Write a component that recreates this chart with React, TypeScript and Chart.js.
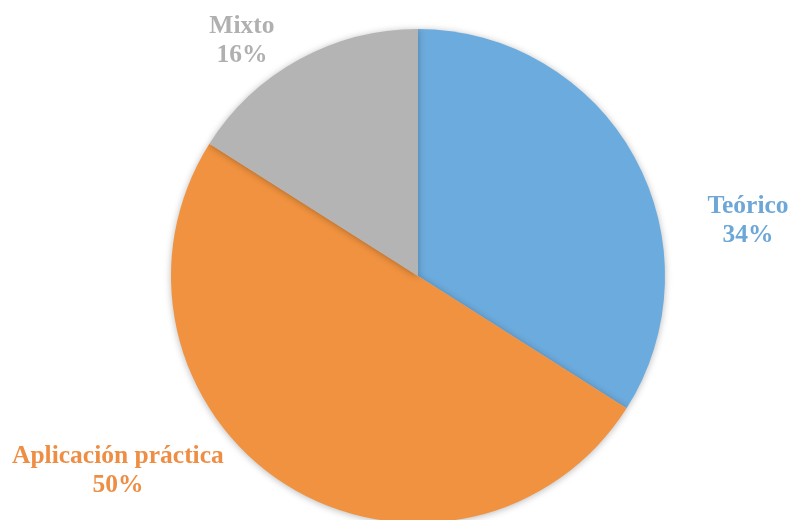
import React, { useEffect, useRef } from "react";
import { Chart, registerables } from "chart.js";

Chart.register(...registerables);

const categories = ["Teórico", "Aplicación práctica", "Mixto"];
const values = [34, 50, 16];
const sliceColors = ["#6CABDD", "#F0923F", "#B4B4B4"];
const labelColors = ["#6DA7D8", "#EE8E44", "#B0B0B0"];
// label anchor offsets relative to pie centre, in units of radius (style config)
const labelAnchors = [
  [1.336, -0.255],
  [-1.215, 0.757],
  [-0.713, -0.984],
];

const labelPlugin = {
  id: "sliceLabels",
  beforeDatasetsDraw(chart: any) {
    const ctx = chart.ctx;
    ctx.save();
    ctx.shadowColor = "rgba(0,0,0,0.28)";
    ctx.shadowBlur = 7;
    ctx.shadowOffsetX = 0;
    ctx.shadowOffsetY = 1;
  },
  afterDatasetsDraw(chart: any) {
    const ctx = chart.ctx;
    ctx.restore();
    const meta = chart.getDatasetMeta(0);
    const arc0 = meta.data[0];
    const cx = arc0.x;
    const cy = arc0.y;
    const r = arc0.outerRadius;
    const total = values.reduce((a, b) => a + b, 0);
    ctx.save();
    ctx.font = 'bold 25.5px "Liberation Serif", "DejaVu Serif", serif';
    ctx.textAlign = "center";
    ctx.textBaseline = "alphabetic";
    categories.forEach((cat, i) => {
      const x = cx + labelAnchors[i][0] * r;
      const y = cy + labelAnchors[i][1] * r;
      ctx.fillStyle = labelColors[i];
      ctx.fillText(cat, x, y);
      ctx.fillText(Math.round((values[i] / total) * 100) + "%", x, y + 29);
    });
    ctx.restore();
  },
};

export default function App() {
  const ref = useRef<HTMLCanvasElement>(null);
  useEffect(() => {
    if (!ref.current) return;
    const chart = new Chart(ref.current, {
      type: "pie",
      data: {
        labels: categories,
        datasets: [
          {
            data: values,
            backgroundColor: sliceColors,
            borderWidth: 0,
          },
        ],
      },
      options: {
        responsive: false,
        animation: false,
        devicePixelRatio: 1,
        layout: { padding: { left: 171, right: 126, top: 29, bottom: 17 } },
        plugins: {
          legend: { display: false },
          tooltip: { enabled: false },
        },
      },
      plugins: [labelPlugin],
    });
    return () => chart.destroy();
  }, []);
  return (
    <div
      style={{
        position: "fixed",
        left: 0,
        top: 0,
        width: 791,
        height: 520,
        overflow: "hidden",
        background: "#fff",
      }}
    >
      <canvas ref={ref} width={791} height={540} style={{ display: "block" }} />
    </div>
  );
}
